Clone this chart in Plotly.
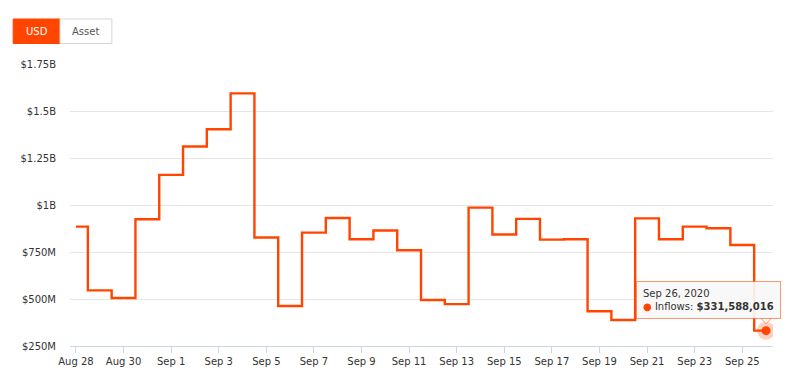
import plotly.graph_objects as go
import pandas as pd

# ---- data ----
dates = pd.date_range("2020-08-28", "2020-09-26", freq="D")
inflows = [
    885e6, 546e6, 505e6, 924e6, 1160e6, 1311e6, 1403e6, 1594e6,   # Aug 28 - Sep 4
    827e6, 463e6, 853e6, 931e6, 818e6, 864e6, 759e6, 495e6,       # Sep 5 - Sep 12
    473e6, 986e6, 843e6, 926e6, 816e6, 818e6, 435e6, 388e6,       # Sep 13 - Sep 20
    929e6, 818e6, 885e6, 876e6, 787e6, 331588016,                  # Sep 21 - Sep 26
]
y_tickvals = [250e6, 500e6, 750e6, 1000e6, 1250e6, 1500e6, 1750e6]
y_ticktext = ["$250M", "$500M", "$750M", "$1B", "$1.25B", "$1.5B", "$1.75B"]
series_name = "Inflows"
tooltip_date = "Sep 26, 2020"
tooltip_value = "$331,588,016"
buttons = ["USD", "Asset"]

ORANGE = "#ff4500"
FONT = "DejaVu Sans"

fig = go.Figure()
fig.add_trace(go.Scatter(
    x=dates, y=inflows, mode="lines", line=dict(color=ORANGE, width=2.4, shape="hvh"),
    name=series_name, hoverinfo="skip", showlegend=False,
))
# hover halo + marker on last point
fig.add_trace(go.Scatter(
    x=[dates[-1]], y=[inflows[-1]], mode="markers",
    marker=dict(size=18, color="rgba(255,69,0,0.25)"), hoverinfo="skip", showlegend=False,
))
fig.add_trace(go.Scatter(
    x=[dates[-1]], y=[inflows[-1]], mode="markers",
    marker=dict(size=9, color=ORANGE), hoverinfo="skip", showlegend=False,
))

# tooltip
fig.add_shape(
    type="path", xref="x", yref="y", xsizemode="pixel", ysizemode="pixel",
    xanchor=dates[-1], yanchor=inflows[-1],
    path="M -6,13 L 0,7 L 6,13",
    fillcolor="rgba(247,247,247,0.95)", line=dict(color="rgba(255,69,0,0.55)", width=1),
)
fig.add_annotation(
    x=dates[-1], y=inflows[-1], xref="x", yref="y",
    text=(f"<span style='color:#333333'>{tooltip_date}</span><br>"
          f"<span style='color:{ORANGE}'>●</span> {series_name}: <b>{tooltip_value}</b>"),
    showarrow=False, xanchor="right", yanchor="bottom", xshift=15, yshift=12,
    align="left", font=dict(family=FONT, size=10, color="#333333"),
    bgcolor="rgba(247,247,247,0.92)", bordercolor="rgba(255,69,0,0.55)", borderwidth=1, borderpad=6,
)

# buttons (USD active, Asset inactive); page pixel -> paper conversion
PL, PB, W, H = 68.0, 346.0, 705.0, 282.0
def px_x(p):
    return (p - PL) / W
def px_y(p):
    return (PB - p) / H

fig.add_shape(type="rect", xref="paper", yref="paper",
              x0=px_x(11), x1=px_x(58), y0=px_y(43.5), y1=px_y(19),
              fillcolor=ORANGE, line=dict(color=ORANGE, width=1))
fig.add_shape(type="rect", xref="paper", yref="paper",
              x0=px_x(58), x1=px_x(110), y0=px_y(43.5), y1=px_y(19),
              fillcolor="white", line=dict(color="#d6d6d6", width=1))
fig.add_annotation(xref="paper", yref="paper", x=px_x(34.5), y=px_y(31.3), text=buttons[0],
                   xanchor="center", yanchor="middle",
                   showarrow=False, font=dict(family=FONT, size=10, color="white"))
fig.add_annotation(xref="paper", yref="paper", x=px_x(84), y=px_y(31.3), text=buttons[1],
                   xanchor="center", yanchor="middle",
                   showarrow=False, font=dict(family=FONT, size=10, color="#555555"))

# page has an 8px body margin: figure is 785x380 placed at (8, 8)
fig.update_layout(
    width=785, height=380,
    margin=dict(l=60, r=20, t=56, b=42),
    paper_bgcolor="white", plot_bgcolor="white",
    font=dict(family=FONT, size=10, color="#333333"),
    hovermode=False, showlegend=False,
)
fig.update_xaxes(
    range=[pd.Timestamp("2020-08-27 18:00"), pd.Timestamp("2020-09-26 07:00")],
    tick0="2020-08-28", dtick=2 * 86400000, tickformat="%b %-d",
    ticks="outside", ticklen=6, tickcolor="#ccd6eb", tickwidth=1,
    showline=True, linecolor="#ccd6eb", linewidth=1, showgrid=False, zeroline=False,
    tickfont=dict(family=FONT, size=10, color="#333333"),
)
fig.update_yaxes(
    range=[250e6, 1750e6], tickvals=y_tickvals, ticktext=y_ticktext,
    showgrid=True, gridcolor="#e6e6e6", gridwidth=1, zeroline=False, showline=False,
    ticks="", ticklabelstandoff=13,
    tickfont=dict(family=FONT, size=10, color="#333333"),
)

fig.write_html("out.html")
